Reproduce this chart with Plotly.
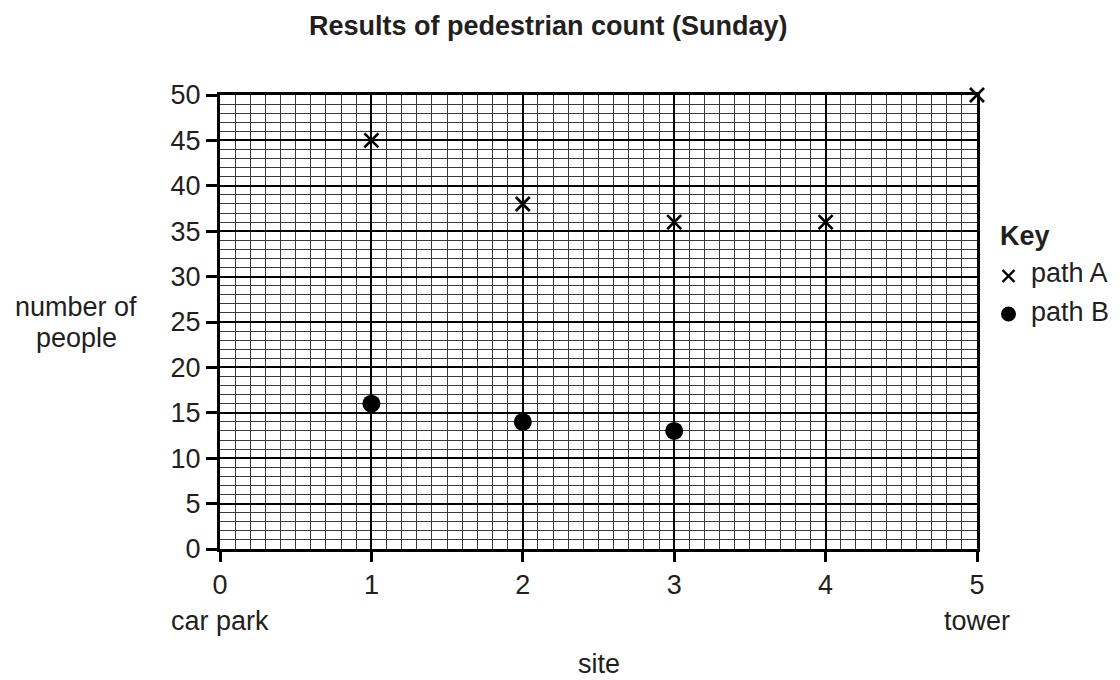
import plotly.graph_objects as go

sites_a = [1, 2, 3, 4, 5]
people_a = [45, 38, 36, 36, 50]
sites_b = [1, 2, 3]
people_b = [16, 14, 13]
x_ticks = [0, 1, 2, 3, 4, 5]
y_ticks = [0, 5, 10, 15, 20, 25, 30, 35, 40, 45, 50]

FONT = "Liberation Sans, Arial, sans-serif"
TXT = "#231f20"
FS = 27

# plot area in pixels
L, R, T, B = 220, 977, 95, 549
W, H = 1120, 680


def px(xp):
    return (xp - L) / (R - L)


def py(yp):
    return (B - yp) / (B - T)


fig = go.Figure()
fig.add_trace(go.Scatter(x=sites_a, y=people_a, mode="markers", name="path A",
                         marker=dict(symbol="x-thin", size=14, line=dict(width=2.7, color="black"), color="black"),
                         cliponaxis=False, showlegend=False))
fig.add_trace(go.Scatter(x=sites_b, y=people_b, mode="markers", name="path B",
                         marker=dict(symbol="circle", size=18, color="black"),
                         cliponaxis=False, showlegend=False))

fig.update_layout(
    width=W, height=H,
    margin=dict(l=L, r=W - R, t=T, b=H - B),
    paper_bgcolor="white", plot_bgcolor="white",
    font=dict(family=FONT, size=FS, color=TXT),
    showlegend=False,
    xaxis=dict(range=[0, 5], tickvals=x_ticks, ticks="outside", ticklen=10, tickwidth=2.5, tickcolor="black",
               showline=True, linecolor="black", linewidth=3, mirror=True,
               showgrid=True, gridcolor="black", gridwidth=2,
               minor=dict(dtick=0.1, showgrid=True, gridcolor="#3a3a3a", gridwidth=1),
               zeroline=False, tickfont=dict(size=FS, color=TXT), fixedrange=True),
    yaxis=dict(range=[0, 50], tickvals=y_ticks, ticks="outside", ticklen=11, tickwidth=2.5, tickcolor="black",
               showline=True, linecolor="black", linewidth=3, mirror=True,
               showgrid=True, gridcolor="black", gridwidth=2,
               minor=dict(dtick=1, showgrid=True, gridcolor="#3a3a3a", gridwidth=1),
               zeroline=False, tickfont=dict(size=FS, color=TXT), fixedrange=True),
)

# title
fig.add_annotation(x=px(548), y=py(26), xref="paper", yref="paper",
                   text="<b>Results of pedestrian count (Sunday)</b>", showarrow=False,
                   font=dict(size=FS, color=TXT), xanchor="center", yanchor="middle")

# axis labels
fig.add_annotation(x=0, y=py(621), xref="x", yref="paper", text="car park", showarrow=False,
                   font=dict(size=FS, color=TXT), xanchor="center", yanchor="middle")
fig.add_annotation(x=5, y=py(621), xref="x", yref="paper", text="tower", showarrow=False,
                   font=dict(size=FS, color=TXT), xanchor="center", yanchor="middle")
fig.add_annotation(x=0.5, y=py(664), xref="paper", yref="paper", text="site", showarrow=False,
                   font=dict(size=FS, color=TXT), xanchor="center", yanchor="middle")
fig.add_annotation(x=px(76), y=py(307), xref="paper", yref="paper", text="number of",
                   showarrow=False, font=dict(size=FS, color=TXT), xanchor="center", yanchor="middle")
fig.add_annotation(x=px(76), y=py(338), xref="paper", yref="paper", text="people",
                   showarrow=False, font=dict(size=FS, color=TXT), xanchor="center", yanchor="middle")

# key
fig.add_annotation(x=px(998), y=py(236), xref="paper", yref="paper", text="<b>Key</b>",
                   showarrow=False, font=dict(size=FS, color=TXT), xanchor="left", yanchor="middle")
fig.add_annotation(x=px(1029), y=py(273), xref="paper", yref="paper", text="path A",
                   showarrow=False, font=dict(size=FS, color=TXT), xanchor="left", yanchor="middle")
fig.add_annotation(x=px(1029), y=py(312), xref="paper", yref="paper", text="path B",
                   showarrow=False, font=dict(size=FS, color=TXT), xanchor="left", yanchor="middle")
# key symbols
cx, cy, h = 1008.5, 276, 6
fig.add_shape(type="line", xref="paper", yref="paper", x0=px(cx - h), y0=py(cy - h), x1=px(cx + h), y1=py(cy + h),
              line=dict(color="black", width=2.4))
fig.add_shape(type="line", xref="paper", yref="paper", x0=px(cx - h), y0=py(cy + h), x1=px(cx + h), y1=py(cy - h),
              line=dict(color="black", width=2.4))
cy2, r = 314, 7.5
fig.add_shape(type="circle", xref="paper", yref="paper", x0=px(cx - r), y0=py(cy2 + r), x1=px(cx + r), y1=py(cy2 - r),
              fillcolor="black", line=dict(color="black", width=0))

fig.write_html("out.html", config={"displayModeBar": False},
               post_script="document.body.style.margin='0';document.body.style.overflow='hidden';")
